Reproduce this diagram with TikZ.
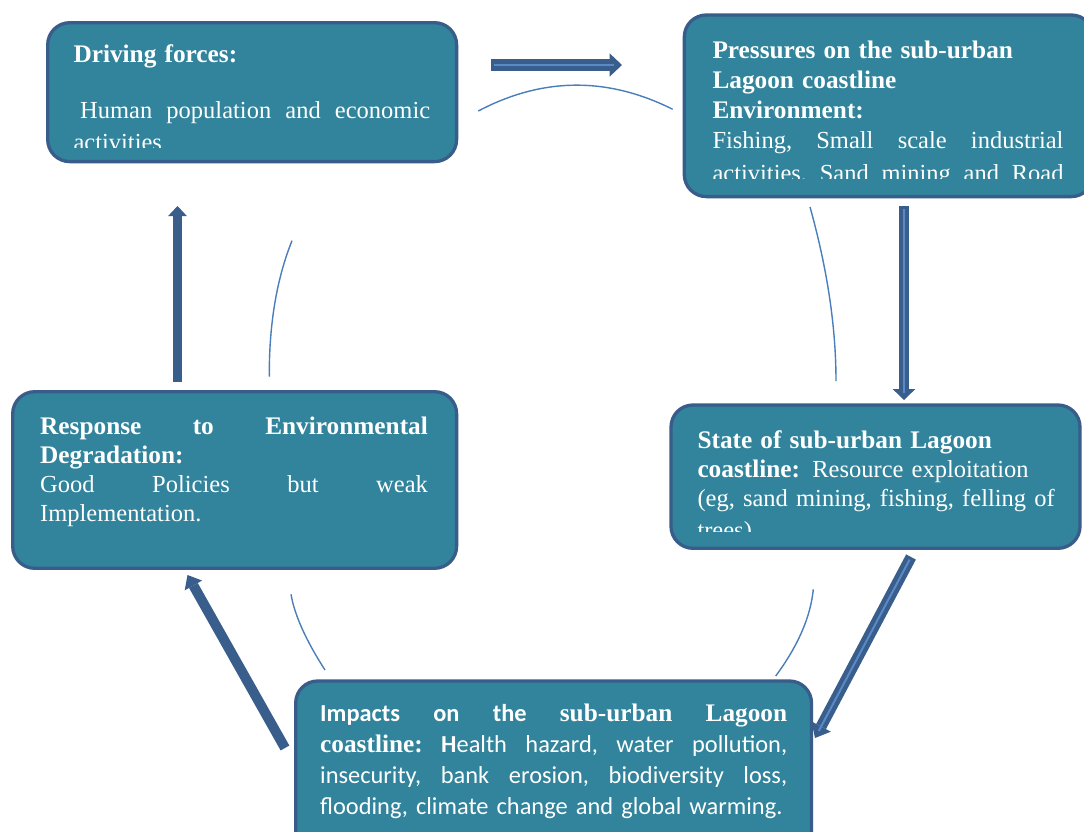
\documentclass[tikz,border=0pt]{standalone}
\usepackage{fontspec}
\setmainfont{Liberation Serif}
\newfontfamily\calib{Carlito}
\usetikzlibrary{arrows.meta}
\definecolor{boxfill}{HTML}{31849B}
\definecolor{boxline}{HTML}{385D8A}
\definecolor{arrdark}{HTML}{3A5E8C}
\definecolor{arrlight}{HTML}{5A8AC6}
\definecolor{arcblue}{HTML}{4A7EBB}
\newcommand{\bhd}[1]{{\fontsize{25.3}{29}\selectfont\bfseries #1}}
\tikzset{
  cyclebox/.style={draw=boxline, fill=boxfill, line width=3.3pt, rounded corners=22pt, inner sep=0pt},
  boxtext/.style={text=white, anchor=base west, inner sep=0pt, align=left, text width=560pt},
  flow/.style={draw=arrdark, line cap=butt},
  stripe/.style={draw=arrlight, line width=2pt, line cap=butt},
  arcline/.style={draw=arcblue, line width=1.4pt},
}
\begin{document}
\begin{tikzpicture}[x=1pt,y=-1pt]
\useasboundingbox (0,0) rectangle (1084,832);
\clip (0,0) rectangle (1084,832);
\fill[white] (0,0) rectangle (1084,832);

% boxes
\node[cyclebox, minimum width=408.9pt, minimum height=138.9pt] (drv) at (252.15,92.15) {};
\node[cyclebox, minimum width=409pt, minimum height=181.6pt] (prs) at (888.8,105.8) {};
\node[cyclebox, minimum width=409pt, minimum height=143.3pt] (sta) at (875.5,476.65) {};
\node[cyclebox, minimum width=443.9pt, minimum height=176.6pt] (rsp) at (234.65,480) {};
\node[cyclebox, minimum width=515.8pt, minimum height=180pt] (imp) at (553.6,771) {};

% texts
\begin{scope}
\clip (50,25) rectangle (455,147.7);
\node[boxtext, font=\fontsize{24.5}{29.6}\selectfont] (drvtxt) at (73.3,62.7)
  {\bhd{Driving forces:}\\[26pt]\hspace*{6.7pt}\makebox[350pt][l]{Human\hfill population\hfill and\hfill economic}\\[3pt]activities};
\end{scope}
\begin{scope}
\clip (687,18) rectangle (1084,178.3);
\node[boxtext, font=\fontsize{24.5}{29.8}\selectfont] (prstxt) at (712.3,58.8)
  {\bhd{Pressures on the sub-urban}\\\bhd{Lagoon coastline}\\\bhd{Environment:}\\\makebox[351pt][l]{Fishing,\hfill Small\hfill scale\hfill industrial}\\[4pt]\makebox[351pt][l]{activities,\hfill Sand\hfill mining\hfill and\hfill Road}};
\end{scope}
\begin{scope}
\clip (674,408) rectangle (1077,531.7);
\node[boxtext, font=\fontsize{24.5}{29}\selectfont] (statxt) at (697.3,448.3)
  {\bhd{State of sub-urban Lagoon}\\\bhd{coastline:} Resource exploitation\\(eg, sand mining, fishing, felling of\\[2.7pt]trees)};
\end{scope}
\node[boxtext, font=\fontsize{24.5}{29}\selectfont] (rsptxt) at (40,434.3)
  {\makebox[387.7pt][l]{\bhd{Response}\hfill\bhd{to}\hfill\bhd{Environmental}}\\\bhd{Degradation:}\\\makebox[387.7pt][l]{Good\hfill Policies\hfill but\hfill weak}\\Implementation.};
\node[boxtext, font=\fontsize{24.4}{30.8}\selectfont] (imptxt) at (320,721.7)
  {\makebox[467pt][l]{{\calib\bfseries Impacts}\hfill{\calib\bfseries on}\hfill{\calib\bfseries the}\hfill\bhd{sub-urban}\hfill\bhd{Lagoon}}\\\makebox[467pt][l]{\bhd{coastline:}\hfill{\calib\textbf{H}ealth}\hfill{\calib hazard,}\hfill{\calib water}\hfill{\calib pollution,}}\\\makebox[467pt][l]{\calib insecurity,\hfill bank\hfill erosion,\hfill biodiversity\hfill loss,}\\{\calib flooding, climate change and global warming.}};

% arcs
\coordinate (a1s) at (478.3,111);   \coordinate (a1e) at (672.7,109.3);
\coordinate (a2s) at (810,207);     \coordinate (a2e) at (836,381);
\coordinate (a3s) at (813.3,589.3); \coordinate (a3e) at (775.7,676);
\coordinate (a4s) at (291,594.3);   \coordinate (a4e) at (325,670);
\coordinate (a5s) at (292,240.7);   \coordinate (a5e) at (269.3,376.7);
\draw[arcline] (a1s) .. controls (542.7,77) and (607.7,76.7) .. (a1e);
\draw[arcline] (a2s) .. controls (827.3,269) and (836,327) .. (a2e);
\draw[arcline] (a3s) .. controls (810.6,617) and (797.9,646) .. (a3e);
\draw[arcline] (a4s) .. controls (294.5,614.8) and (305.7,640) .. (a4e);
\draw[arcline] (a5s) .. controls (276.7,278.7) and (269,324.3) .. (a5e);

% block arrows
\coordinate (f1a) at (491,65);     \coordinate (f1b) at (622,65);
\coordinate (f2a) at (904,206);    \coordinate (f2b) at (904,400);
\coordinate (f3a) at (911,557);    \coordinate (f3b) at (815,738);
\coordinate (f4a) at (285,748);    \coordinate (f4b) at (187.5,575);
\coordinate (f5a) at (177.5,382);  \coordinate (f5b) at (177.5,206);
\draw[flow, line width=11.5pt, -{Triangle[width=23.4pt,length=12.4pt,line width=0pt]}] (f1a) -- (f1b);
\draw[stripe, shorten <=3pt, shorten >=8pt] (f1a) -- (f1b);
\draw[flow, line width=10.7pt, -{Triangle[width=22.7pt,length=11pt,line width=0pt]}] (f2a) -- (f2b);
\draw[stripe, shorten <=3pt, shorten >=7pt] (f2a) -- (f2b);
\draw[flow, line width=11pt, -{Triangle[width=22pt,length=13pt,line width=0pt]}] (f3a) -- (f3b);
\draw[stripe, shorten <=3pt, shorten >=8pt] (f3a) -- (f3b);
\draw[flow, line width=10pt, -{Triangle[width=20pt,length=12pt,line width=0pt]}] (f4a) -- (f4b);
\draw[flow, line width=9.7pt, -{Triangle[width=18.7pt,length=10pt,line width=0pt]}] (f5a) -- (f5b);
\end{tikzpicture}
\end{document}
